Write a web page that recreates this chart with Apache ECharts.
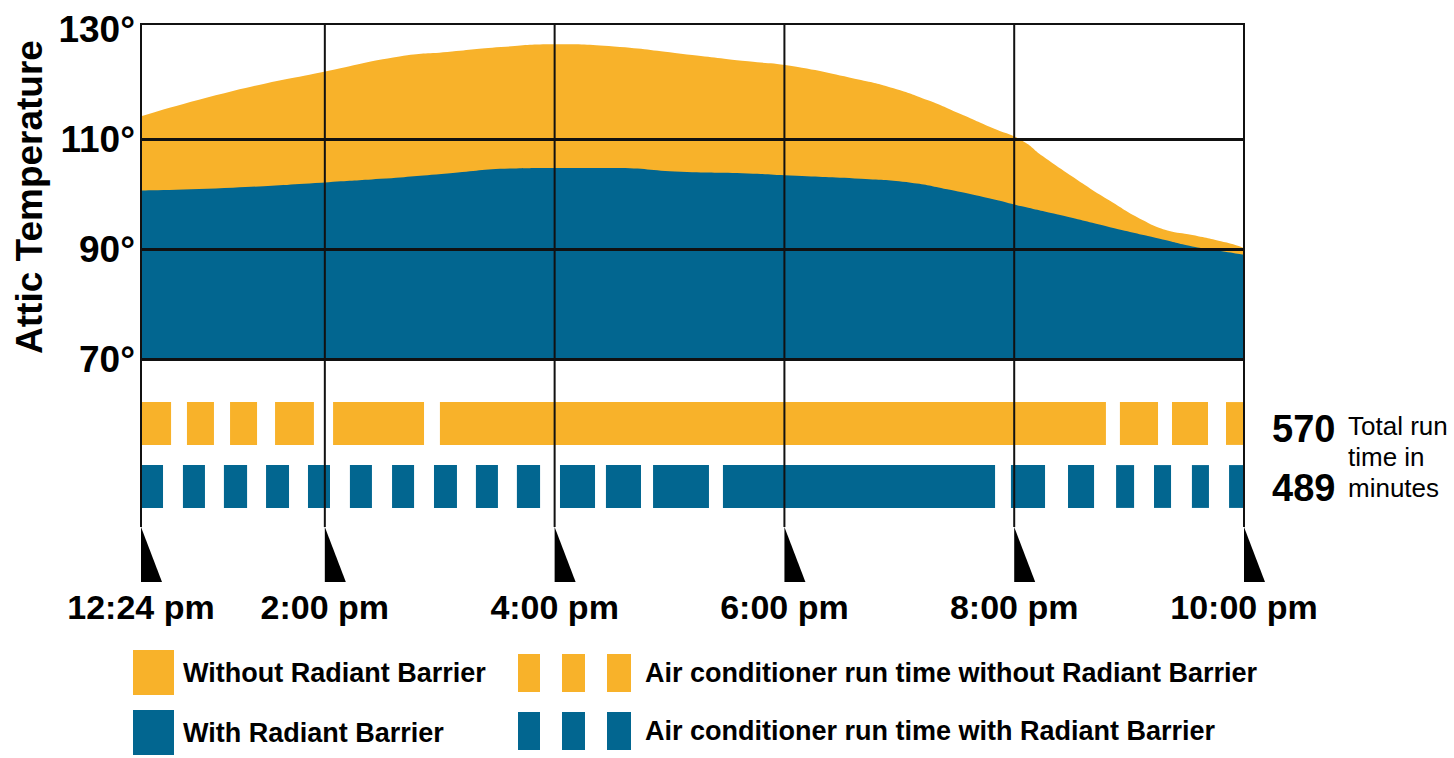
<!DOCTYPE html>
<html><head><meta charset="utf-8">
<script src="https://cdn.jsdelivr.net/npm/echarts@6/dist/echarts.min.js"></script>
<style>html,body{margin:0;padding:0;background:#fff}#c{width:1454px;height:758px}</style>
</head><body><div id="c"></div>
<script>
// ---- data (minutes after noon on x, degrees F on y) ----
const tickMinutes = [24, 120, 240, 360, 480, 600];
const tickLabels = ['12:24 pm', '2:00 pm', '4:00 pm', '6:00 pm', '8:00 pm', '10:00 pm'];
const tempTicks = [70, 90, 110, 130];
const gridTemps = [70, 90, 110];

const timeWithout = [24, 72, 122, 159, 184, 212, 240, 271, 306, 341, 363, 400, 417, 435, 452, 469, 484, 495, 513, 530, 547, 560, 573, 591, 600];
const tempWithout = [114.2, 118.8, 122.5, 125.1, 125.9, 126.8, 127.3, 126.9, 125.6, 124.2, 123.4, 120.8, 119.3, 117.1, 114.6, 112.0, 109.8, 106.9, 102.6, 98.8, 95.3, 93.4, 92.6, 91.2, 90.2];

const timeWith = [24, 72, 122, 149, 184, 218, 240, 271, 306, 341, 363, 400, 426, 445, 469, 484, 504, 530, 556, 573, 582, 600];
const tempWith = [100.7, 101.2, 102.2, 102.8, 103.8, 104.7, 104.8, 104.8, 104.1, 103.8, 103.4, 102.8, 102.1, 100.9, 99.1, 97.8, 96.2, 94.0, 91.9, 90.5, 90.0, 89.0];

const runWithout = [[24, 39.7], [48, 62.1], [70.5, 84.6], [94, 114.3], [124.3, 171.8], [180.1, 527.9], [535.2, 555.1], [562.4, 581.2], [590.6, 600]];
const runWith = [[24, 35.5], [45.9, 57.4], [67.3, 79.4], [89.3, 101.3], [111.2, 122.7], [133.1, 144.6], [155.1, 166.6], [177, 189], [198.9, 210.4], [220.3, 232.4], [242.8, 261.1], [266.8, 285.1], [291.4, 320.6], [327.9, 470], [478.3, 496.1], [508.1, 521.7], [533.2, 542.6], [553, 561.9], [572.8, 581.7], [592.2, 600]];

const totalRunMinutes = [570, 489];
const seriesNames = ['Without Radiant Barrier', 'With Radiant Barrier'];
const runNames = ['Air conditioner run time without Radiant Barrier', 'Air conditioner run time with Radiant Barrier'];

// ---- styling ----
const FN = "'Liberation Sans', Arial, sans-serif";
const ORANGE = '#F8B22A', BLUE = '#026690', INK = '#111';
const L = 141, R = 210;

const chart = echarts.init(document.getElementById('c'), null, {renderer: 'svg'});

function runRect(params, api) {
  const a = api.coord([api.value(0), api.value(2)]);
  const b = api.coord([api.value(1), api.value(2)]);
  const h = api.size([0, 1])[1] * 0.68;
  return {type: 'rect', shape: {x: a[0], y: a[1] - h / 2, width: b[0] - a[0], height: h}, style: {fill: api.visual('color')}};
}

const option = {
  animation: false,
  backgroundColor: '#fff',
  grid: [
    {left: L, right: R, top: 24, height: 335, show: true, borderColor: INK, borderWidth: 2, backgroundColor: 'transparent'},
    {left: L, right: R, top: 392, height: 126},
    {left: L, right: R, top: 24, height: 558}
  ],
  xAxis: [
    {gridIndex: 0, type: 'value', min: 24, max: 600, show: false},
    {gridIndex: 1, type: 'value', min: 24, max: 600, show: false},
    {gridIndex: 2, type: 'value', min: 24, max: 600,
     axisLine: {show: false}, axisTick: {show: false}, splitLine: {show: false},
     axisLabel: {customValues: tickMinutes, formatter: v => tickLabels[tickMinutes.indexOf(v)], margin: 8,
                 fontFamily: FN, fontWeight: 'bold', fontSize: 34, color: '#000'}}
  ],
  yAxis: [
    {gridIndex: 0, type: 'value', min: 70, max: 131,
     axisLine: {show: false}, axisTick: {show: false}, splitLine: {show: false},
     axisLabel: {customValues: tempTicks, formatter: v => v + '°', margin: 6,
                 fontFamily: FN, fontWeight: 'bold', fontSize: 37, color: '#000'},
     name: 'Attic Temperature', nameLocation: 'middle', nameRotate: 90, nameGap: 92,
     nameTextStyle: {fontFamily: FN, fontWeight: 'bold', fontSize: 37, color: '#000', padding: [0, 11, 0, 0]}},
    {gridIndex: 1, type: 'category', data: ['without', 'with'], inverse: true, show: false},
    {gridIndex: 2, type: 'value', min: 0, max: 1, show: false}
  ],
  legend: [
    {data: seriesNames, orient: 'vertical', left: 133, top: 650, padding: 0, itemWidth: 41, itemHeight: 45, itemGap: 15,
     icon: 'rect', selectedMode: false, itemStyle: {borderWidth: 0},
     textStyle: {fontFamily: FN, fontWeight: 'bold', fontSize: 27, color: '#000', padding: [0, 0, 0, 4]}},
    {data: runNames, orient: 'vertical', left: 518, top: 654, padding: 0, itemWidth: 113, itemHeight: 38, itemGap: 20,
     icon: 'path://M0,0H22V38H0Z M44,0H67V38H44Z M89,0H113V38H89Z', selectedMode: false, itemStyle: {borderWidth: 0},
     textStyle: {fontFamily: FN, fontWeight: 'bold', fontSize: 27, color: '#000', padding: [0, 0, 0, 9]}}
  ],
  series: [
    {name: seriesNames[0], type: 'line', xAxisIndex: 0, yAxisIndex: 0, z: 2,
     data: timeWithout.map((t, i) => [t, tempWithout[i]]),
     smooth: 0.5, symbol: 'none', color: ORANGE,
     lineStyle: {width: 0}, areaStyle: {color: ORANGE, opacity: 1, origin: 'start'}},
    {name: seriesNames[1], type: 'line', xAxisIndex: 0, yAxisIndex: 0, z: 3,
     data: timeWith.map((t, i) => [t, tempWith[i]]),
     smooth: 0.5, symbol: 'none', color: BLUE,
     lineStyle: {width: 0}, areaStyle: {color: BLUE, opacity: 1, origin: 'start'},
     markLine: {silent: true, symbol: ['none', 'none'], label: {show: false}, z: 6,
                lineStyle: {color: INK, width: 3, type: 'solid'},
                data: gridTemps.map(v => ({yAxis: v}))}},
    {name: runNames[0], type: 'custom', xAxisIndex: 1, yAxisIndex: 1, z: 2, clip: false,
     itemStyle: {color: ORANGE}, encode: {x: [0, 1], y: 2},
     data: runWithout.map(d => [d[0], d[1], 0]), renderItem: runRect},
    {name: runNames[1], type: 'custom', xAxisIndex: 1, yAxisIndex: 1, z: 2, clip: false,
     itemStyle: {color: BLUE}, encode: {x: [0, 1], y: 2},
     data: runWith.map(d => [d[0], d[1], 1]), renderItem: runRect},
    {name: 'time ticks', type: 'custom', xAxisIndex: 2, yAxisIndex: 2, z: 10, clip: false, silent: true,
     data: tickMinutes.map(t => [t]),
     renderItem: (params, api) => {
       const top = api.coord([api.value(0), 1]);
       const bot = api.coord([api.value(0), 0]);
       const triH = 55, triW = 21;
       return {type: 'group', children: [
         {type: 'line', shape: {x1: top[0], y1: top[1], x2: top[0], y2: bot[1] - triH}, style: {stroke: INK, lineWidth: 2}},
         {type: 'polygon', shape: {points: [[top[0], bot[1] - triH], [top[0], bot[1]], [top[0] + triW, bot[1]]]}, style: {fill: '#000'}}
       ]};
     }}
  ],
  graphic: [
    {type: 'text', left: 1272, top: 410, style: {text: String(totalRunMinutes[0]), font: 'bold 38px ' + FN, fill: '#000'}},
    {type: 'text', left: 1272, top: 469, style: {text: String(totalRunMinutes[1]), font: 'bold 38px ' + FN, fill: '#000'}},
    {type: 'text', left: 1348, top: 410, style: {text: 'Total run\ntime in\nminutes', font: '26px ' + FN, lineHeight: 31, fill: '#000'}}
  ]
};
chart.setOption(option);
</script>
</body></html>
